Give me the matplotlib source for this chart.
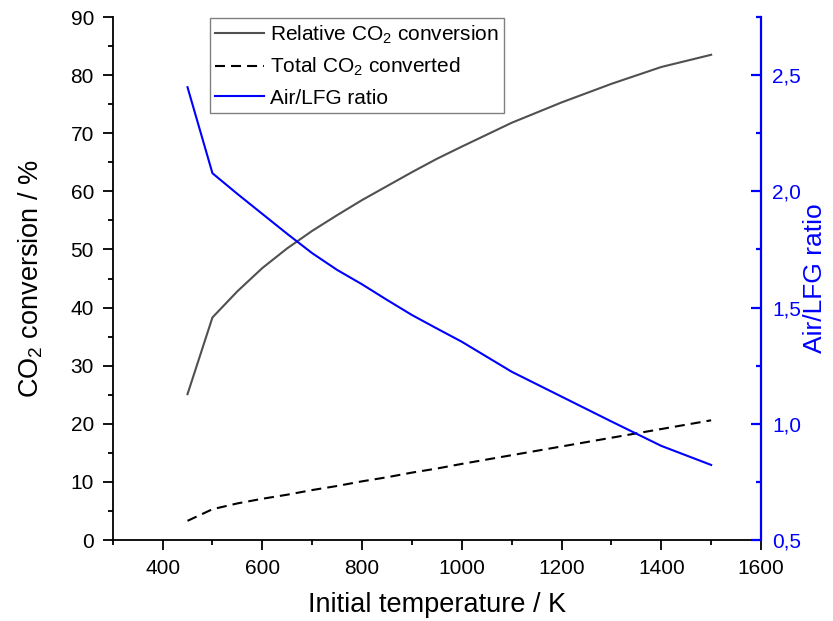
import matplotlib
matplotlib.use("Agg")
import matplotlib.pyplot as plt
from matplotlib.ticker import MultipleLocator, FuncFormatter

plt.rcParams['font.family'] = ['Liberation Sans', 'DejaVu Sans']
plt.rcParams['mathtext.fontset'] = 'custom'
plt.rcParams['mathtext.rm'] = 'Liberation Sans'
plt.rcParams['mathtext.it'] = 'Liberation Sans:italic'
plt.rcParams['mathtext.bf'] = 'Liberation Sans:bold'

# Initial temperature (K)
temperature = [450, 500, 550, 600, 650, 700, 750, 800, 850, 900, 950,
               1000, 1100, 1200, 1300, 1400, 1500]
# Relative CO2 conversion (%)
relative_conv = [25.1, 38.3, 42.8, 46.8, 50.2, 53.2, 55.9, 58.5, 60.9, 63.3,
                 65.6, 67.7, 71.8, 75.3, 78.5, 81.4, 83.5]
# Total CO2 converted (%)
total_conv = [3.3, 5.3, 6.3, 7.1, 7.8, 8.6, 9.3, 10.1, 10.8, 11.6, 12.3,
              13.1, 14.6, 16.1, 17.6, 19.1, 20.6]
# Air / LFG ratio
air_lfg = [2.448, 2.078, 1.989, 1.903, 1.817, 1.734, 1.662, 1.600, 1.533,
           1.468, 1.410, 1.353, 1.224, 1.117, 1.010, 0.905, 0.823]

fig = plt.figure(figsize=(8.33, 6.21), dpi=100)
ax = fig.add_axes([0.1353, 0.1304, 0.7783, 0.8422])
ax2 = ax.twinx()

l1, = ax.plot(temperature, relative_conv, color='#505050', lw=1.5,
              label='Relative CO$_2$ conversion')
l2, = ax.plot(temperature, total_conv, color='black', lw=1.5,
              dashes=(4.8, 2.9), label='Total CO$_2$ converted')
l3, = ax2.plot(temperature, air_lfg, color='#0000ff', lw=1.5,
               label='Air/LFG ratio')

ax.set_xlim(300, 1600)
ax.set_ylim(0, 90)
ax2.set_ylim(0.5, 2.75)

ax.xaxis.set_major_locator(MultipleLocator(200))
ax.xaxis.set_minor_locator(MultipleLocator(100))
ax.yaxis.set_major_locator(MultipleLocator(10))
ax.yaxis.set_minor_locator(MultipleLocator(5))
ax2.yaxis.set_major_locator(MultipleLocator(0.5))
ax2.yaxis.set_minor_locator(MultipleLocator(0.25))
ax2.yaxis.set_major_formatter(FuncFormatter(lambda v, p: f"{v:.1f}".replace('.', ',')))

for a in (ax, ax2):
    a.spines['top'].set_visible(False)
ax.spines['right'].set_visible(False)
ax.spines['left'].set_linewidth(1.3)
ax.spines['bottom'].set_linewidth(1.3)
ax2.spines['left'].set_visible(False)
ax2.spines['bottom'].set_visible(False)
ax2.spines['right'].set_color('#0000ff')
ax2.spines['right'].set_linewidth(1.6)

ax.tick_params(axis='both', which='major', direction='out', length=7.5,
               width=1.3, labelsize=15, pad=6)
ax.tick_params(axis='both', which='minor', direction='out', length=3.5,
               width=1.3)
ax2.tick_params(axis='y', which='major', direction='in', length=7.5,
                width=1.6, colors='#0000ff', labelsize=15, pad=8)
ax2.tick_params(axis='y', which='minor', direction='in', length=3.5,
                width=1.6, colors='#0000ff')

ax.set_xlabel('Initial temperature / K', fontsize=19.5)
ax.xaxis.set_label_coords(0.5, -0.100)
ax.set_ylabel('CO$_2$ conversion / %', fontsize=19.5)
ax.yaxis.set_label_coords(-0.104, 0.5)
ax2.set_ylabel('Air/LFG ratio', fontsize=19, color='#0000ff')
ax2.yaxis.set_label_coords(1.065, 0.5)

leg = ax2.legend(handles=[l1, l2, l3], loc='upper left',
                 bbox_to_anchor=(0.150, 0.998), borderaxespad=0,
                 fontsize=15, frameon=True, fancybox=False,
                 handlelength=2.35, handletextpad=0.3, labelspacing=0.5,
                 borderpad=0.25)
leg.get_frame().set_edgecolor('#606060')
leg.get_frame().set_linewidth(1.0)

fig.savefig('out.png', dpi=100)
